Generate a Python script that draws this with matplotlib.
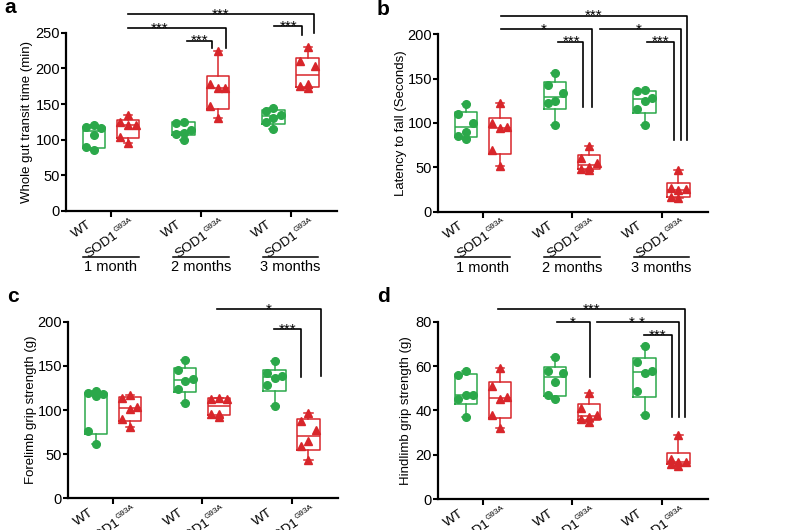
import numpy as np
import matplotlib
matplotlib.use("Agg")
import matplotlib.pyplot as plt

plt.rcParams["font.family"] = ["Liberation Sans", "DejaVu Sans"]

GREEN = "#2ba84a"
RED = "#d8262b"

group_labels = ["1 month", "2 months", "3 months"]
wt_label = "WT"
sod_label = "SOD1"
sod_sup = "G93A"

# a: whole gut transit time (min)
transit_wt = [[120, 118, 117, 107, 90, 86],
              [125, 124, 113, 110, 108, 100],
              [145, 140, 135, 131, 125, 115]]
transit_sod = [[135, 125, 121, 120, 104, 95],
               [225, 178, 173, 173, 148, 130],
               [230, 210, 204, 178, 175, 173]]

# b: latency to fall (s)
latency_wt = [[121, 110, 100, 90, 85, 82],
              [156, 143, 134, 125, 122, 98],
              [137, 136, 128, 125, 116, 98]]
latency_sod = [[122, 100, 95, 94, 70, 52],
               [74, 60, 55, 50, 48, 47],
               [47, 27, 26, 24, 17, 15]]

# c: forelimb grip strength (g)
forelimb_wt = [[122, 119, 118, 116, 76, 62],
               [157, 145, 135, 133, 124, 108],
               [155, 142, 138, 136, 128, 104]]
forelimb_sod = [[117, 114, 103, 101, 90, 81],
                [114, 113, 112, 96, 95, 92],
                [97, 88, 77, 65, 59, 43]]

# d: hindlimb grip strength (g)
hindlimb_wt = [[58, 56, 47, 47, 45, 37],
               [64, 58, 57, 53, 47, 45],
               [69, 62, 58, 57, 49, 38]]
hindlimb_sod = [[59, 51, 46, 45, 38, 32],
                [48, 41, 38, 37, 36, 35],
                [29, 18, 17, 17, 16, 15]]

# significance brackets: (x_left, x_right, y, y_drop, label, label_x)
sig_a = [(1.19, 3.26, 276, 250, "***", 2.22),
         (1.19, 2.285, 257, 229, "***", 1.54),
         (1.85, 2.13, 239, 229, "***", 1.99),
         (2.82, 3.13, 259, 247, "***", 2.98)]
sig_b = [(1.20, 3.29, 221, 81, "***", 2.24),
         (1.20, 2.226, 205.6, 118, "*", 1.68),
         (1.846, 2.125, 191.7, 118, "***", 1.99),
         (2.307, 3.223, 205.6, 81, "*", 2.74),
         (2.84, 3.145, 191.7, 81, "***", 2.99)]
sig_c = [(2.165, 3.33, 214, 138, "*", 2.75),
         (2.80, 3.11, 191.7, 137, "***", 2.955)]
sig_d = [(1.175, 3.268, 85.6, 37, "***", 2.22),
         (1.827, 2.196, 79.7, 55, "*", 2.01),
         (2.28, 3.193, 79.7, 37, "* *", 2.73),
         (2.80, 3.12, 73.9, 37, "***", 2.96)]

OFF = 0.19
JIT = [0.0, -0.085, 0.085, 0.0, -0.085, 0.0]
ROT = 35


def box_stats(vals):
    v = np.sort(np.asarray(vals, dtype=float))
    q1, med, q3 = np.percentile(v, [25, 50, 75], method="weibull")
    return dict(med=med, q1=q1, q3=q3, whislo=v.min(), whishi=v.max(), fliers=[])


def draw_panel(ax, wt, sod, ylim, yticks, ylabel, sigs, letter, label_x, show_groups=True):
    centers = np.arange(1, len(wt) + 1)
    for data, shift, color, marker, ms in [(wt, -OFF, GREEN, "o", 5.5),
                                           (sod, OFF, RED, "^", 6)]:
        pos = centers + shift
        ax.bxp([box_stats(v) for v in data], positions=pos, widths=0.25,
               showfliers=False, capwidths=0.09,
               boxprops=dict(color=color, lw=1.1),
               medianprops=dict(color=color, lw=1.1),
               whiskerprops=dict(color=color, lw=1.1),
               capprops=dict(color=color, lw=1.1))
        for p, vals in zip(pos, data):
            ax.plot(p + np.array(JIT[:len(vals)]), vals, linestyle="none",
                    marker=marker, ms=ms, color=color, zorder=4, clip_on=False)

    ax.set_xlim(0.5, len(wt) + 0.52)
    ax.set_ylim(*ylim)
    ax.set_yticks(yticks)
    ax.set_xticks(centers)
    ax.set_xticklabels([])
    ax.tick_params(axis="x", length=4, width=1.5, direction="out")
    ax.tick_params(axis="y", length=3.5, width=1.5, labelsize=10.5, pad=0.8)
    for s in ["top", "right"]:
        ax.spines[s].set_visible(False)
    for s in ["left", "bottom"]:
        ax.spines[s].set_linewidth(1.6)
    ax.set_ylabel(ylabel, fontsize=9.5)
    ax.yaxis.set_label_coords(label_x, 0.5)

    # rotated genotype labels under each box
    trans = ax.get_xaxis_transform()
    sa, ca = np.sin(np.radians(ROT)), np.cos(np.radians(ROT))
    for c in centers:
        ax.annotate(wt_label, (c - OFF, 0), xycoords=trans, xytext=(-1, -11),
                    textcoords="offset points", rotation=ROT, rotation_mode="anchor",
                    ha="right", va="baseline", fontsize=9.7, annotation_clip=False)
        ax.annotate(sod_label, (c + OFF, 0), xycoords=trans, xytext=(-6.5, -18.5),
                    textcoords="offset points", rotation=ROT, rotation_mode="anchor",
                    ha="right", va="baseline", fontsize=9.7, annotation_clip=False)
        up = 4.2
        ax.annotate(sod_sup, (c + OFF, 0), xycoords=trans,
                    xytext=(-6.5 + 0.3 * ca - up * sa, -18.5 + 0.3 * sa + up * ca),
                    textcoords="offset points", rotation=ROT, rotation_mode="anchor",
                    ha="left", va="baseline", fontsize=5.8, annotation_clip=False)

    for x1, x2, y, yd, txt, tx in sigs:
        ax.plot([x1, x2, x2], [y, y, yd], color="black", lw=1.2, clip_on=False)
        ax.annotate(txt, (tx, y), xytext=(0, -3.3), textcoords="offset points",
                    ha="center", va="baseline", fontsize=11, annotation_clip=False)

    if show_groups:
        for c, g in zip(centers, group_labels):
            ax.plot([c - 0.31, c + 0.31], [-0.257, -0.257], color="black", lw=1.1,
                    transform=trans, clip_on=False)
            ax.text(c, -0.315, g, transform=trans, ha="center", va="center", fontsize=10.5)

    ax.text(-0.227, 1.14, letter, transform=ax.transAxes, fontsize=15,
            fontweight="bold", ha="left", va="center")


fig = plt.figure(figsize=(8, 5.3), dpi=100)
ax_a = fig.add_axes([0.0825, 0.602, 0.339, 0.336])
ax_b = fig.add_axes([0.5475, 0.6006, 0.3375, 0.3347])
ax_c = fig.add_axes([0.085, 0.0598, 0.3375, 0.3332])
ax_d = fig.add_axes([0.5475, 0.058, 0.3375, 0.335])

draw_panel(ax_a, transit_wt, transit_sod, (0, 250), [0, 50, 100, 150, 200, 250],
           "Whole gut transit time (min)", sig_a, "a", -0.122)
draw_panel(ax_b, latency_wt, latency_sod, (0, 200), [0, 50, 100, 150, 200],
           "Latency to fall (Seconds)", sig_b, "b", -0.115)
draw_panel(ax_c, forelimb_wt, forelimb_sod, (0, 200), [0, 50, 100, 150, 200],
           "Forelimb grip strength (g)", sig_c, "c", -0.115, show_groups=False)
draw_panel(ax_d, hindlimb_wt, hindlimb_sod, (0, 80), [0, 20, 40, 60, 80],
           "Hindlimb grip strength (g)", sig_d, "d", -0.096, show_groups=False)

fig.savefig("out.png", dpi=100)
